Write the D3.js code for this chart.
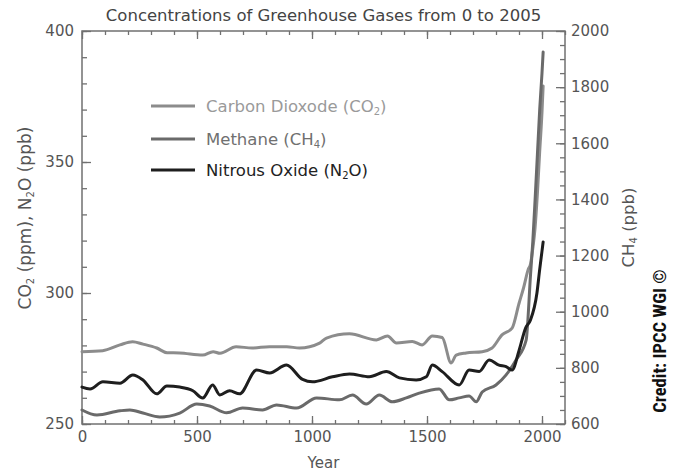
<!DOCTYPE html>
<html><head><meta charset="utf-8">
<script src="https://cdn.jsdelivr.net/npm/d3@7"></script>
<style>body{margin:0;background:#fff}svg{display:block}</style>
</head><body><svg id="c" width="678" height="474"></svg>
<script>
// ---- data ----
const co2Years  = [0,90,165,220,265,325,370,425,525,570,600,670,740,815,890,946,1033,1063,1163,1280,1328,1367,1436,1479,1523,1566,1605,1627,1670,1740,1783,1826,1870,1900,1920,1940,1950,1960,1970,1980,1990,2000,2005];
const co2Values = [277.6,278,280.2,281.4,280.5,279,277.2,277.1,276.3,277.6,277,279.5,279,279.5,279.5,279,280.9,282.8,284.4,282.1,283.6,280.9,281.5,280.2,283.6,283,273.3,276.3,277.1,277.6,279,284,286.6,296,302,309,311,317,325,338,354,369,379];

const ch4Years  = [0,65,165,208,265,338,425,499,555,629,698,785,846,933,1020,1119,1176,1236,1293,1349,1410,1466,1553,1597,1640,1683,1714,1740,1800,1844,1887,1931,1950,1960,1970,1980,1990,2000,2005];
const ch4Values = [650,632,647,650,639,625,639,671,664,640,657,650,668,657,693,686,703,671,703,679,693,710,725,686,693,700,679,714,739,775,828,899,1130,1250,1400,1560,1720,1850,1925];

const n2oYears  = [0,35,91,165,221,265,325,369,425,482,525,568,599,642,685,759,816,889,959,1002,1089,1163,1249,1323,1380,1453,1497,1523,1566,1640,1683,1727,1770,1813,1844,1870,1900,1929,1950,1978,1990,2000,2005];
const n2oValues = [264.1,263.4,266.1,265.6,268.7,266.8,261.5,264.5,264.1,262.7,259.9,264.9,261.1,262.7,261.5,270.6,269.5,272.5,267,266.1,268,269.1,268,270,267.6,266.8,268,272.5,270,264.9,270.6,270,274.4,272.5,271.9,270.6,278,286.7,289.7,300,309,316,319.5];

const xTicks = [0,500,1000,1500,2000];
const leftTicks = [250,300,350,400];
const rightTicks = [600,800,1000,1200,1400,1600,1800,2000];

// ---- layout ----
const L = 82, R = 565, T = 31, B = 424;
const svg = d3.select("#c");
const x = d3.scaleLinear().domain([0,2100]).range([L,R]);
const yL = d3.scaleLinear().domain([250,400]).range([B,T]);
const yR = d3.scaleLinear().domain([600,2000]).range([B,T]);

const axisColor = "#707070", textColor = "#555";
const font = "DejaVu Sans, sans-serif";

function styleAxis(g){
  g.select(".domain").remove();
  g.selectAll(".tick line").attr("stroke",axisColor).attr("stroke-width",1.3);
  g.selectAll("text").attr("fill",textColor).style("font-family",font).style("font-size","15px");
}

// minor ticks
svg.append("g").attr("transform",`translate(0,${B})`)
  .call(d3.axisBottom(x).tickValues(d3.range(0,2101,100)).tickSize(-4).tickFormat(""))
  .call(styleAxis);
svg.append("g").attr("transform",`translate(0,${T})`)
  .call(d3.axisTop(x).tickValues(d3.range(0,2101,100)).tickSize(-4).tickFormat(""))
  .call(styleAxis);
svg.append("g").attr("transform",`translate(${L},0)`)
  .call(d3.axisLeft(yL).tickValues(d3.range(250,401,10)).tickSize(-5).tickFormat(""))
  .call(styleAxis);
svg.append("g").attr("transform",`translate(${R},0)`)
  .call(d3.axisRight(yR).tickValues(d3.range(600,2001,50)).tickSize(-5).tickFormat(""))
  .call(styleAxis);
// major ticks
svg.append("g").attr("transform",`translate(0,${B})`)
  .call(d3.axisBottom(x).tickValues(xTicks).tickSize(-8).tickPadding(7).tickFormat(d3.format("d")))
  .call(styleAxis);
svg.append("g").attr("transform",`translate(0,${T})`)
  .call(d3.axisTop(x).tickValues(xTicks).tickSize(-8).tickFormat(""))
  .call(styleAxis);
svg.append("g").attr("transform",`translate(${L},0)`)
  .call(d3.axisLeft(yL).tickValues(leftTicks).tickSize(-9).tickPadding(8).tickFormat(d3.format("d")))
  .call(styleAxis);
svg.append("g").attr("transform",`translate(${R},0)`)
  .call(d3.axisRight(yR).tickValues(rightTicks).tickSize(-9).tickPadding(6).tickFormat(d3.format("d")))
  .call(styleAxis);

// frame
svg.append("rect").attr("x",L).attr("y",T).attr("width",R-L).attr("height",B-T)
  .attr("fill","none").attr("stroke",axisColor).attr("stroke-width",1.5);

// lines
const series = [
  {years:co2Years, vals:co2Values, y:yL, color:"#8c8c8c", w:3},
  {years:ch4Years, vals:ch4Values, y:yR, color:"#6a6a6a", w:3},
  {years:n2oYears, vals:n2oValues, y:yL, color:"#1e1e1e", w:3}
];
series.forEach(s=>{
  const line = d3.line().x((d,i)=>x(s.years[i])).y(d=>s.y(d)).curve(d3.curveMonotoneX);
  svg.append("path").datum(s.vals).attr("d",line).attr("fill","none")
    .attr("stroke",s.color).attr("stroke-width",s.w).attr("stroke-linejoin","round").attr("stroke-linecap","round");
});

// legend
const legend = [
  {label:["Carbon Dioxode (CO","2",")"], color:"#8c8c8c", text:"#9a9a9a", y:106},
  {label:["Methane (CH","4",")"], color:"#6a6a6a", text:"#707070", y:139},
  {label:["Nitrous Oxide (N","2","O)"], color:"#1e1e1e", text:"#222", y:170}
];
legend.forEach(l=>{
  svg.append("line").attr("x1",151).attr("x2",195).attr("y1",l.y).attr("y2",l.y)
    .attr("stroke",l.color).attr("stroke-width",3);
  const t = svg.append("text").attr("x",206).attr("y",l.y+6).attr("fill",l.text)
    .style("font-family",font).style("font-size","16.5px");
  t.append("tspan").text(l.label[0]);
  t.append("tspan").attr("font-size","10px").attr("dy",3).text(l.label[1]);
  t.append("tspan").attr("dy",-3).text(l.label[2]);
});

// title
svg.append("text").attr("x",(L+R)/2).attr("y",21).attr("text-anchor","middle")
  .attr("fill","#444").style("font-family",font).style("font-size","16.5px")
  .text("Concentrations of Greenhouse Gases from 0 to 2005");
// x title
svg.append("text").attr("x",(L+R)/2).attr("y",468).attr("text-anchor","middle")
  .attr("fill",textColor).style("font-family",font).style("font-size","15px").text("Year");
// left title
const lt = svg.append("text").attr("transform",`translate(31,218) rotate(-90)`)
  .attr("text-anchor","middle").attr("fill",textColor).style("font-family",font).style("font-size","17px");
lt.append("tspan").text("CO");
lt.append("tspan").attr("font-size","10px").attr("dy",3).text("2");
lt.append("tspan").attr("dy",-3).text(" (ppm), N");
lt.append("tspan").attr("font-size","10px").attr("dy",3).text("2");
lt.append("tspan").attr("dy",-3).text("O (ppb)");
// right title
const rt = svg.append("text").attr("transform",`translate(634,${(T+B)/2}) rotate(-90)`)
  .attr("text-anchor","middle").attr("fill",textColor).style("font-family",font).style("font-size","16.5px");
rt.append("tspan").text("CH");
rt.append("tspan").attr("font-size","10px").attr("dy",3).text("4");
rt.append("tspan").attr("dy",-3).text(" (ppb)");

// credit
svg.append("text").attr("transform","translate(666,341) rotate(-90)")
  .attr("text-anchor","middle").attr("fill","#111")
  .style("font-family","'Liberation Sans Narrow', 'Roboto Condensed', 'Liberation Sans', sans-serif")
  .style("font-weight","bold").style("font-size","18.5px").style("font-stretch","condensed")
  .text("Credit: IPCC WGI ©");
</script></body></html>
